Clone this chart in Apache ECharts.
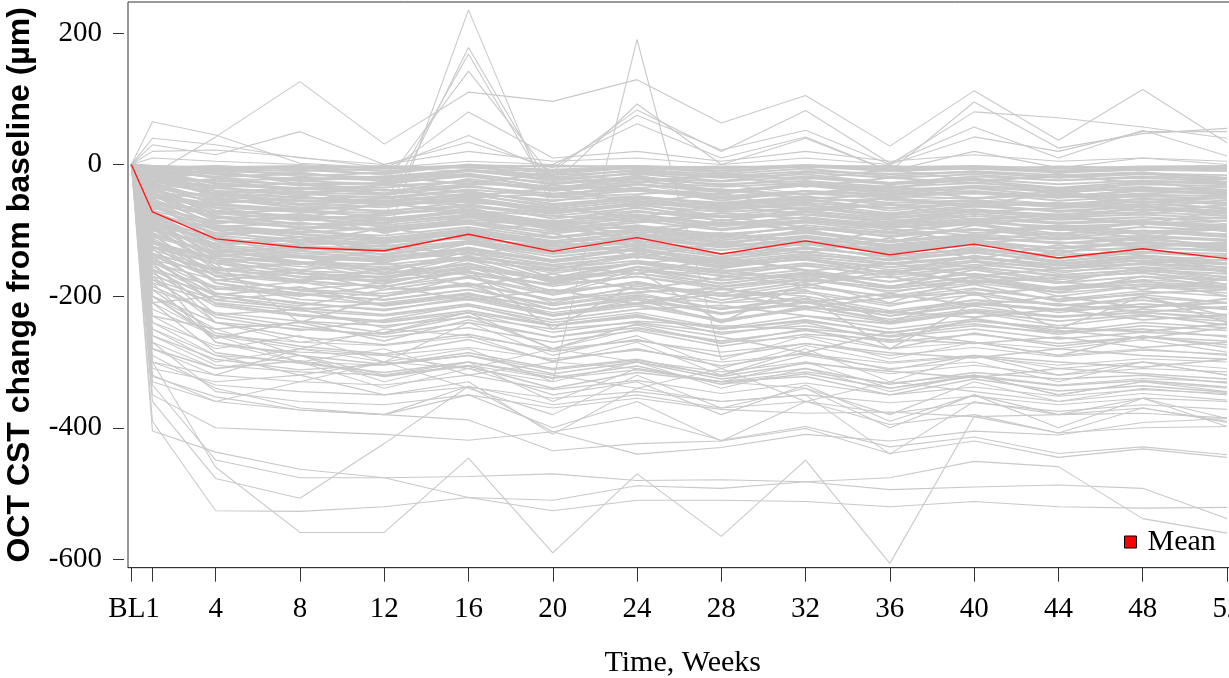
<!DOCTYPE html>
<html>
<head>
<meta charset="utf-8">
<script src="https://cdn.jsdelivr.net/npm/echarts@6/dist/echarts.min.js"></script>
<style>
html,body{margin:0;padding:0;background:#fff;}
#chart{width:1229px;height:678px;}
</style>
</head>
<body>
<div id="chart"></div>
<script>
// ---- data ----
const weeks = [0, 1, 4, 8, 12, 16, 20, 24, 28, 32, 36, 40, 44, 48, 52];
const weekLabels = ['BL', '1', '4', '8', '12', '16', '20', '24', '28', '32', '36', '40', '44', '48', '52'];
const yTickValues = [-600, -400, -200, 0, 200];
const meanChange = [0, -72, -113, -126, -131, -106, -132, -111, -136, -116, -137, -121, -142, -128, -143];

const upperSubjects = [
  [0, -15, 42, 126, 31, 110, 96, 129, 63, 105, 28, 112, 37, 114, 33],
  [0, 65, 45, 2, -5, -10, -15, -5, -20, -10, -15, -10, -20, -15, -20],
  [0, -60, -95, -110, -120, 235, -70, -60, -80, -70, -85, -75, -90, -80, -90],
  [0, -30, -60, -70, -80, 178, -40, -30, -50, -40, -55, -50, -60, -55, -60],
  [0, -20, -40, -50, -60, 168, -50, -25, -40, -30, -45, -35, -50, -40, -45],
  [0, -25, -35, -45, -30, 142, -20, -35, -30, -45, -40, -50, -45, -50, -55],
  [0, -5, -10, -5, -15, 80, 10, 20, 5, 20, 5, 15, 5, 10, 5],
  [0, -200, -260, -280, -300, -310, -330, 190, -297, -260, -280, -270, -290, -280, -290],
  [0, -10, -20, -25, -20, -15, -30, 92, 0, 40, -10, 20, -5, 10, 0],
  [0, 10, 5, 0, -5, 44, -10, 83, 20, 82, 2, 57, 10, 52, 13],
  [0, 30, 15, 50, 0, 34, -5, 75, 22, 52, 0, 80, 71, 57, 40],
  [0, 20, 22, 11, -5, 5, 0, 62, 10, 42, -10, 95, 25, 47, 55],
  [0, 40, 30, 10, 0, 20, 5, 10, 0, 10, 0, 42, 20, 50, 50]
];

const coreSubjects = [
  [0, -5, -8, -10, -6, -4, -12, -5, -9, -3, -10, -6, -12, -8, -10],
  [0, -12, -18, -15, -20, -10, -22, -14, -25, -12, -20, -15, -24, -18, -22],
  [0, -20, -25, -30, -28, -18, -35, -22, -30, -25, -34, -28, -36, -30, -33],
  [0, -8, -30, -38, -35, -25, -40, -30, -42, -32, -45, -35, -40, -38, -44],
  [0, -30, -40, -45, -50, -38, -48, -40, -52, -44, -50, -42, -55, -48, -52],
  [0, -25, -45, -55, -52, -40, -60, -50, -58, -48, -62, -55, -60, -52, -58],
  [0, -40, -55, -60, -65, -50, -68, -55, -70, -58, -66, -60, -72, -64, -70],
  [0, -15, -50, -65, -70, -62, -75, -60, -78, -65, -80, -70, -76, -68, -74],
  [0, -50, -65, -72, -78, -60, -82, -70, -85, -72, -88, -75, -84, -80, -86],
  [0, -35, -70, -80, -85, -72, -90, -78, -92, -80, -95, -85, -98, -88, -94],
  [0, -60, -78, -90, -92, -80, -98, -85, -100, -88, -102, -90, -105, -95, -100],
  [0, -45, -85, -95, -100, -88, -105, -92, -108, -95, -110, -98, -112, -102, -108],
  [0, -70, -92, -102, -108, -95, -112, -100, -115, -104, -118, -108, -120, -110, -116],
  [0, -55, -98, -110, -115, -102, -120, -108, -125, -112, -124, -115, -128, -118, -124],
  [0, -3, -15, -22, -18, -8, -25, -12, -20, -15, -28, -18, -24, -20, -26],
  [0, -18, -35, -28, -40, -30, -32, -38, -45, -30, -42, -36, -48, -40, -46],
  [0, -28, -22, -42, -38, -50, -45, -35, -55, -40, -48, -52, -45, -58, -50],
  [0, -45, -60, -48, -62, -55, -70, -62, -58, -68, -60, -72, -66, -62, -75],
  [0, -38, -75, -68, -82, -70, -78, -86, -74, -82, -90, -78, -88, -84, -80],
  [0, -65, -88, -80, -95, -84, -92, -98, -88, -100, -92, -104, -96, -106, -98],
  [0, -75, -105, -98, -112, -100, -118, -110, -104, -116, -122, -112, -118, -125, -120],
  [0, -10, -5, -18, -12, -2, -20, -8, -15, -6, -18, -10, -16, -12, -20],
  [0, -22, -12, -25, -30, -15, -28, -18, -32, -20, -30, -24, -35, -26, -30],
  [0, -52, -42, -35, -45, -32, -50, -45, -38, -52, -46, -40, -50, -44, -40],
  [0, -33, -58, -52, -48, -58, -65, -52, -68, -56, -52, -64, -58, -70, -62],
  [0, -80, -95, -88, -102, -90, -85, -96, -110, -92, -105, -100, -94, -102, -110],
  [0, -5, -2, -8, -15, 0, -10, -4, -12, -2, -8, -5, -10, -6, -4],
  [0, -58, -72, -85, -75, -68, -88, -72, -80, -76, -84, -92, -80, -90, -85],
  [0, -90, -115, -122, -118, -112, -125, -120, -130, -118, -128, -122, -132, -126, -130],
  [0, -95, -110, -128, -132, -118, -136, -124, -140, -128, -138, -130, -142, -134, -140],
  [0, -42, -82, -75, -90, -65, -95, -80, -98, -86, -92, -82, -100, -90, -96],
  [0, -12, -40, -60, -55, -45, -65, -48, -62, -52, -70, -58, -64, -56, -68],
  [0, -68, -62, -70, -60, -52, -72, -58, -66, -60, -74, -62, -70, -64, -72],
  [0, -85, -120, -115, -125, -108, -130, -112, -122, -118, -132, -120, -126, -118, -128],
  [0, -100, -125, -135, -140, -128, -145, -130, -148, -135, -150, -140, -152, -142, -150],
  [0, -2, -6, -4, -10, -2, -8, -3, -6, -1, -7, -4, -9, -5, -6],
  [0, -16, -26, -20, -24, -14, -30, -20, -26, -18, -28, -22, -30, -24, -28],
  [0, -26, -36, -42, -46, -34, -44, -38, -48, -40, -46, -44, -50, -46, -48],
  [0, -36, -48, -56, -58, -46, -62, -52, -64, -54, -66, -58, -64, -60, -66],
  [0, -48, -62, -70, -74, -64, -78, -66, -80, -70, -82, -72, -80, -76, -82],
  [0, -56, -74, -84, -88, -76, -92, -82, -94, -84, -96, -88, -94, -90, -96],
  [0, -66, -86, -96, -98, -86, -102, -94, -106, -96, -108, -98, -108, -100, -106],
  [0, -78, -98, -106, -112, -98, -116, -104, -120, -108, -122, -110, -120, -114, -122],
  [0, -88, -108, -118, -124, -110, -128, -116, -130, -120, -134, -122, -132, -126, -132],
  [0, -98, -122, -132, -136, -120, -140, -128, -144, -132, -146, -134, -146, -138, -146],
  [0, -108, -132, -140, -146, -134, -152, -140, -154, -144, -156, -146, -158, -150, -156],
  [0, -118, -142, -150, -156, -144, -162, -150, -164, -154, -168, -156, -168, -160, -166],
  [0, -126, -150, -162, -166, -152, -172, -160, -176, -164, -178, -166, -180, -170, -176],
  [0, -136, -160, -170, -176, -164, -182, -170, -186, -174, -188, -176, -190, -182, -186],
  [0, -8, -20, -32, -28, -16, -36, -26, -34, -28, -40, -32, -38, -34, -42],
  [0, -20, -44, -50, -56, -44, -54, -48, -60, -50, -58, -54, -62, -56, -60],
  [0, -30, -60, -68, -62, -54, -74, -62, -72, -66, -76, -68, -78, -72, -78],
  [0, -44, -70, -78, -82, -72, -86, -76, -90, -80, -92, -82, -90, -86, -92],
  [0, -14, -10, -14, -22, -8, -16, -10, -18, -10, -14, -12, -20, -14, -16],
  [0, -24, -32, -36, -32, -26, -38, -30, -40, -32, -38, -34, -42, -36, -38],
  [0, -62, -94, -104, -96, -90, -110, -98, -112, -102, -116, -106, -114, -108, -114],
  [0, -72, -104, -114, -120, -104, -124, -112, -126, -116, -130, -118, -128, -120, -126],
  [0, -82, -112, -124, -128, -116, -134, -122, -136, -126, -140, -128, -138, -132, -136],
  [0, -92, -128, -138, -144, -126, -148, -136, -150, -140, -152, -142, -154, -146, -152],
  [0, -104, -138, -148, -152, -140, -158, -146, -162, -150, -164, -152, -162, -156, -162]
];

const zigzagSubjects = [
  [0, -6, -14, -24, -18, -30, -12, -26, -16, -34, -20, -28, -14, -30, -22],
  [0, -18, -8, -30, -44, -22, -38, -16, -42, -28, -36, -20, -46, -26, -40],
  [0, -28, -54, -40, -62, -48, -36, -58, -44, -70, -50, -62, -42, -66, -54],
  [0, -40, -66, -82, -58, -74, -90, -64, -86, -72, -60, -84, -76, -92, -68],
  [0, -52, -90, -76, -104, -80, -96, -112, -84, -100, -118, -92, -108, -86, -102],
  [0, -64, -100, -120, -96, -114, -132, -106, -124, -98, -128, -116, -136, -110, -126],
  [0, -76, -124, -110, -138, -120, -104, -142, -118, -134, -112, -144, -122, -138, -150],
  [0, -88, -136, -152, -128, -146, -160, -134, -156, -142, -166, -138, -158, -150, -144],
  [0, -98, -150, -138, -164, -132, -172, -148, -160, -176, -150, -168, -180, -156, -172],
  [0, -112, -164, -178, -158, -184, -166, -190, -172, -160, -188, -176, -194, -170, -186],
  [0, -124, -176, -164, -190, -172, -198, -178, -206, -186, -200, -182, -208, -196, -190],
  [0, -136, -188, -200, -184, -206, -190, -212, -196, -218, -202, -194, -214, -206, -220],
  [0, -148, -198, -186, -214, -196, -220, -202, -226, -208, -230, -212, -222, -216, -210],
  [0, -160, -206, -218, -228, -212, -236, -220, -214, -230, -242, -224, -238, -228, -244],
  [0, -4, -20, -12, -26, -10, -18, -28, -14, -22, -8, -24, -18, -12, -28],
  [0, -10, -34, -48, -30, -42, -56, -36, -50, -44, -32, -52, -40, -58, -46],
  [0, -24, -46, -62, -72, -56, -66, -80, -62, -76, -88, -70, -82, -64, -78],
  [0, -34, -78, -92, -84, -70, -100, -88, -78, -96, -104, -86, -98, -112, -92],
  [0, -46, -94, -106, -118, -102, -88, -118, -108, -124, -98, -120, -110, -116, -130],
  [0, -58, -116, -130, -122, -138, -118, -132, -146, -126, -140, -156, -132, -148, -138],
  [0, -70, -128, -148, -160, -140, -154, -166, -142, -162, -150, -170, -158, -140, -164],
  [0, -82, -142, -160, -150, -168, -182, -156, -176, -166, -186, -160, -178, -190, -174],
  [0, -94, -156, -176, -186, -162, -192, -182, -196, -178, -170, -198, -186, -176, -200],
  [0, -106, -170, -192, -200, -182, -206, -194, -188, -210, -196, -214, -200, -218, -204],
  [0, -2, -4, -2, -6, -1, -3, -2, -5, -1, -4, -2, -6, -3, -2],
  [0, -7, -3, -6, -2, -5, -1, -6, -3, -4, -2, -7, -3, -5, -8],
  [0, -14, -28, -36, -44, -32, -48, -30, -38, -46, -34, -42, -50, -38, -34],
  [0, -32, -52, -66, -56, -62, -74, -58, -68, -62, -78, -64, -70, -76, -60],
  [0, -48, -80, -96, -88, -78, -94, -104, -90, -86, -98, -108, -92, -102, -96],
  [0, -62, -108, -98, -116, -104, -122, -100, -118, -110, -126, -114, -104, -124, -118],
  [0, -78, -134, -124, -142, -130, -148, -126, -152, -138, -144, -132, -150, -140, -158],
  [0, -92, -146, -166, -172, -158, -176, -160, -168, -184, -162, -180, -172, -164, -182],
  [0, -116, -180, -196, -206, -190, -214, -198, -220, -204, -226, -206, -212, -224, -216],
  [0, -128, -196, -210, -222, -202, -228, -212, -236, -218, -224, -232, -220, -236, -228],
  [0, -140, -212, -228, -238, -222, -244, -230, -250, -236, -256, -238, -248, -254, -242]
];

const midSubjects = [
  [0, -110, -135, -142, -148, -130, -155, -138, -158, -142, -160, -148, -165, -150, -160],
  [0, -120, -145, -155, -160, -142, -165, -150, -170, -152, -172, -158, -175, -162, -170],
  [0, -130, -158, -165, -170, -150, -178, -160, -182, -165, -185, -170, -188, -175, -182],
  [0, -85, -150, -172, -178, -162, -185, -170, -190, -175, -192, -180, -195, -185, -190],
  [0, -140, -168, -180, -185, -170, -195, -178, -200, -182, -202, -188, -205, -192, -200],
  [0, -150, -175, -190, -196, -180, -205, -188, -210, -192, -212, -198, -215, -202, -210],
  [0, -160, -185, -198, -205, -190, -212, -195, -220, -200, -222, -206, -225, -212, -220],
  [0, -105, -180, -205, -212, -198, -220, -205, -228, -210, -230, -215, -232, -220, -228],
  [0, -170, -195, -212, -220, -205, -230, -215, -238, -220, -240, -225, -245, -230, -238],
  [0, -180, -210, -222, -230, -215, -240, -225, -248, -230, -250, -235, -255, -240, -248],
  [0, -125, -140, -130, -150, -120, -145, -128, -155, -135, -150, -140, -158, -145, -150],
  [0, -135, -162, -150, -175, -145, -180, -155, -165, -172, -160, -178, -168, -160, -175],
  [0, -145, -190, -178, -200, -170, -210, -185, -200, -195, -215, -190, -205, -198, -210],
  [0, -155, -200, -215, -190, -185, -220, -200, -210, -205, -225, -210, -220, -212, -218],
  [0, -165, -215, -230, -240, -225, -245, -232, -250, -238, -255, -242, -258, -245, -252],
  [0, -115, -170, -160, -182, -155, -198, -165, -185, -170, -195, -175, -190, -182, -188],
  [0, -175, -205, -195, -215, -200, -225, -210, -218, -215, -235, -220, -230, -225, -232],
  [0, -190, -225, -238, -245, -232, -250, -240, -255, -245, -262, -250, -265, -255, -260],
  [0, -75, -130, -150, -140, -135, -160, -140, -150, -145, -165, -148, -158, -152, -162],
  [0, -200, -240, -250, -258, -240, -262, -248, -268, -252, -270, -258, -272, -262, -268],
  [0, -95, -160, -148, -168, -140, -175, -150, -140, -160, -178, -155, -170, -165, -175],
  [0, -210, -200, -220, -210, -195, -230, -205, -240, -215, -238, -222, -232, -225, -235],
  [0, -60, -110, -140, -165, -150, -195, -160, -240, -180, -210, -170, -200, -185, -195],
  [0, -135, -175, -190, -180, -160, -250, -180, -200, -190, -240, -195, -250, -200, -240],
  [0, -120, -150, -240, -200, -180, -230, -210, -190, -200, -280, -210, -220, -200, -230],
  [0, -100, -120, -110, -130, -105, -135, -115, -140, -120, -145, -125, -148, -132, -140],
  [0, -185, -228, -220, -248, -225, -255, -238, -245, -250, -260, -245, -255, -250, -262],
  [0, -145, -165, -175, -170, -155, -175, -165, -180, -168, -185, -172, -190, -178, -185],
  [0, -150, -228, -246, -262, -248, -270, -252, -276, -258, -266, -272, -262, -278, -270],
  [0, -170, -240, -262, -274, -258, -284, -266, -292, -272, -286, -294, -280, -290, -296],
  [0, -190, -256, -276, -288, -266, -298, -280, -306, -286, -312, -290, -300, -308, -296],
  [0, -160, -270, -290, -304, -286, -310, -296, -322, -302, -314, -324, -310, -318, -326],
  [0, -210, -286, -302, -316, -300, -324, -306, -334, -318, -340, -322, -336, -328, -338],
  [0, -230, -250, -240, -268, -236, -262, -244, -272, -250, -280, -256, -276, -262, -274],
  [0, -200, -264, -238, -256, -230, -280, -242, -262, -286, -254, -270, -290, -260, -278],
  [0, -175, -232, -252, -236, -214, -244, -228, -258, -240, -268, -234, -252, -264, -248],
  [0, -260, -296, -312, -304, -290, -318, -300, -326, -310, -334, -316, -326, -320, -332],
  [0, -280, -310, -298, -322, -306, -340, -316, -330, -322, -350, -326, -344, -336, -346]
];

const lowerSubjects = [
  [0, -220, -260, -270, -275, -262, -280, -268, -285, -272, -290, -278, -292, -282, -288],
  [0, -240, -275, -285, -290, -278, -295, -282, -300, -288, -302, -292, -305, -295, -300],
  [0, -250, -290, -300, -305, -290, -312, -298, -315, -300, -318, -305, -320, -310, -315],
  [0, -260, -305, -315, -320, -305, -325, -312, -330, -315, -332, -320, -335, -325, -330],
  [0, -280, -320, -330, -335, -320, -342, -328, -348, -332, -350, -338, -352, -342, -348],
  [0, -300, -335, -345, -350, -338, -355, -345, -360, -350, -362, -352, -365, -355, -360],
  [0, -322, -353, -373, -380, -337, -365, -350, -370, -360, -378, -362, -375, -365, -372],
  [0, -270, -345, -360, -365, -350, -370, -355, -372, -378, -376, -383, -380, -378, -385],
  [0, -310, -330, -320, -300, -280, -330, -300, -340, -310, -345, -320, -350, -330, -340],
  [0, -230, -280, -260, -300, -240, -290, -260, -310, -275, -300, -290, -320, -300, -310],
  [0, -200, -250, -290, -320, -300, -360, -310, -330, -340, -380, -330, -360, -340, -350],
  [0, -250, -300, -280, -250, -260, -300, -270, -320, -280, -330, -290, -310, -300, -320],
  [0, -290, -340, -370, -380, -350, -400, -360, -420, -360, -395, -380, -408, -370, -392],
  [0, -180, -270, -300, -340, -310, -350, -330, -380, -335, -390, -350, -400, -355, -398],
  [0, -330, -360, -330, -300, -340, -380, -320, -370, -340, -400, -350, -380, -355, -386],
  [0, -270, -310, -290, -330, -300, -320, -340, -310, -360, -330, -345, -360, -348, -358],
  [0, -210, -260, -300, -280, -320, -300, -310, -330, -300, -340, -320, -350, -330, -345],
  [0, -240, -290, -320, -350, -330, -410, -340, -360, -350, -440, -360, -380, -370, -390],
  [0, -300, -320, -280, -290, -310, -280, -300, -320, -290, -310, -300, -330, -300, -320],
  [0, -150, -240, -270, -255, -225, -280, -250, -270, -262, -295, -270, -280, -266, -285]
];

const extremeSubjects = [
  [0, -405, -437, -463, -476, -474, -470, -480, -479, -482, -476, -451, -459, -538, -560],
  [0, -390, -526, -527, -520, -506, -510, -488, -492, -482, -494, -490, -487, -492, -538],
  [0, -335, -449, -476, -476, -506, -526, -510, -510, -512, -520, -512, -520, -522, -521],
  [0, -360, -477, -507, -424, -337, -406, -384, -419, -398, -429, -414, -439, -429, -441],
  [0, -300, -460, -559, -559, -446, -590, -470, -565, -449, -606, -383, -408, -400, -398],
  [0, -320, -360, -373, -380, -388, -435, -424, -420, -401, -439, -420, -445, -432, -445],
  [0, -350, -400, -405, -410, -419, -406, -440, -430, -410, -420, -405, -411, -392, -386]
];

// ---- chart ----
const SERIF = '"Liberation Serif", "Times New Roman", serif';
const SANS = '"Liberation Sans", Arial, sans-serif';
const GREY = '#c9c9c9';
const toPoints = row => weeks.map((w, i) => [w, row[i]]);

const series = [];
function addGroup(rows, width) {
  rows.forEach(row => series.push({
    type: 'line',
    data: toPoints(row),
    symbol: 'none',
    silent: true,
    z: 1,
    lineStyle: { color: GREY, width: width },
    emphasis: { disabled: true }
  }));
}
addGroup(upperSubjects, 1.1);
addGroup(coreSubjects, 1.9);
addGroup(zigzagSubjects, 1.9);
addGroup(midSubjects, 1.5);
addGroup(lowerSubjects, 1.1);
addGroup(extremeSubjects, 1.1);
series.push({
  type: 'line',
  name: 'Mean',
  data: toPoints(meanChange),
  symbol: 'none',
  z: 5,
  itemStyle: { color: '#ff0000' },
  lineStyle: { color: '#ff1a1a', width: 1.4 }
});

const mainTicks = weeks.filter(w => w !== 1);
const labelRich = {
  bl: { fontFamily: SERIF, fontSize: 29, color: '#000', padding: [0, 9, 0, 0] },
  n: { fontFamily: SERIF, fontSize: 29, color: '#000' }
};

const chart = echarts.init(document.getElementById('chart'), null, { renderer: 'canvas' });
chart.setOption({
  animation: false,
  backgroundColor: '#ffffff',
  grid: {
    left: 128, top: 2, right: -8.5, bottom: 110.3,
    show: true, borderColor: '#333', borderWidth: 1,
    containLabel: false, outerBoundsMode: 'none'
  },
  legend: {
    data: ['Mean'],
    left: 1124, top: 527,
    padding: 0,
    icon: 'rect',
    itemWidth: 12, itemHeight: 12,
    itemStyle: { color: '#ff0000', borderColor: '#000', borderWidth: 1 },
    textStyle: { fontFamily: SERIF, fontSize: 30, color: '#000', padding: [0, 0, 0, 6] },
    selectedMode: false
  },
  xAxis: [{
    type: 'value',
    min: -0.16, max: 52.5,
    splitLine: { show: false },
    axisLine: { show: true, onZero: false, lineStyle: { color: '#333', width: 1 } },
    axisTick: { show: true, length: 14, customValues: mainTicks, lineStyle: { color: '#333', width: 1 } },
    axisLabel: {
      customValues: mainTicks,
      showMinLabel: true, showMaxLabel: true, hideOverlap: false,
      formatter: v => v === 0 ? '{bl|BL}' : '{n|' + weekLabels[weeks.indexOf(v)] + '}',
      rich: labelRich,
      fontFamily: SERIF, fontSize: 29, color: '#000', margin: 27
    },
    name: 'Time, Weeks',
    nameLocation: 'middle',
    nameGap: 80,
    nameTextStyle: { fontFamily: SERIF, fontSize: 30, color: '#000' }
  }, {
    type: 'value',
    position: 'bottom',
    offset: 0,
    min: -0.16, max: 52.5,
    splitLine: { show: false },
    axisLine: { show: false, onZero: false },
    axisTick: { show: true, length: 14, customValues: [1], lineStyle: { color: '#333', width: 1 } },
    axisLabel: {
      customValues: [1],
      showMinLabel: true, showMaxLabel: true, hideOverlap: false,
      formatter: v => weekLabels[weeks.indexOf(v)],
      fontFamily: SERIF, fontSize: 29, color: '#000', margin: 27
    }
  }],
  yAxis: {
    type: 'value',
    min: -612.6, max: 247,
    offset: 4,
    splitLine: { show: false },
    axisLine: { show: false, onZero: false },
    axisTick: { show: true, length: 11, customValues: yTickValues, lineStyle: { color: '#333', width: 1 } },
    axisLabel: {
      customValues: yTickValues,
      showMinLabel: true, showMaxLabel: true,
      fontFamily: SERIF, fontSize: 29, color: '#000', margin: 22
    },
    name: 'OCT CST change from baseline (µm)',
    nameLocation: 'middle',
    nameGap: 88,
    nameTextStyle: { fontFamily: SANS, fontSize: 32, fontWeight: 'bold', color: '#000' }
  },
  series: series
});
</script>
</body>
</html>
